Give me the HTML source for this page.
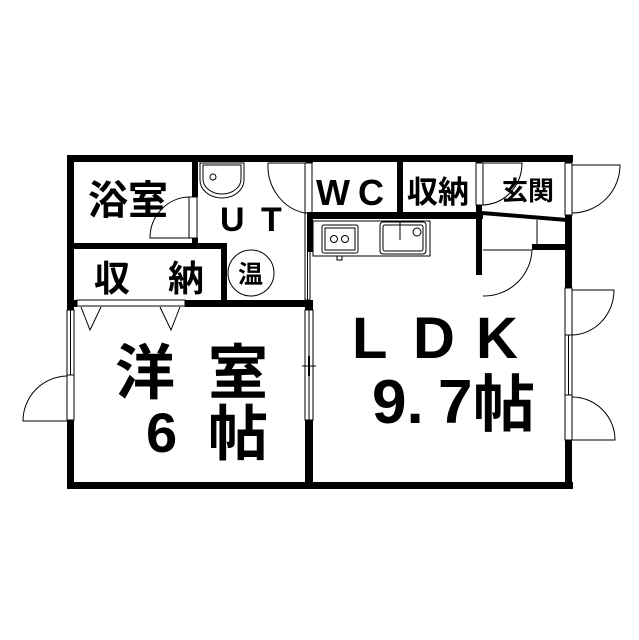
<!DOCTYPE html>
<html><head><meta charset="utf-8"><style>
html,body{margin:0;padding:0;background:#fff;}
svg{display:block;}
text{font-family:"Liberation Sans","Noto Sans CJK JP",sans-serif;fill:#000;font-weight:bold;}
</style></head><body>
<svg width="639" height="640" viewBox="0 0 639 640" xmlns="http://www.w3.org/2000/svg">
<rect width="639" height="640" fill="#fff"/>
<g fill="#000">
<rect x="67" y="155" width="506" height="7"/>
<rect x="67" y="155" width="7" height="155"/>
<rect x="67" y="420" width="7" height="68"/>
<rect x="67" y="482" width="506" height="7"/>
<rect x="565" y="155" width="7" height="8"/>
<rect x="565" y="215" width="7" height="73"/>
<rect x="565" y="440" width="7" height="49"/>
<rect x="192" y="155" width="6" height="42"/>
<rect x="192" y="238" width="6" height="11"/>
<rect x="67" y="243" width="160" height="6"/>
<rect x="221" y="243" width="6" height="64"/>
<rect x="185" y="300" width="128" height="7"/>
<rect x="67" y="300" width="10" height="7"/>
<rect x="306" y="155" width="7" height="8"/>
<rect x="305" y="300" width="8" height="10"/>
<rect x="305" y="420" width="8" height="68"/>
<rect x="307" y="212" width="176" height="7"/>
<rect x="307" y="212" width="6" height="40"/>
<rect x="397" y="155" width="6" height="62"/>
<rect x="476" y="155" width="6" height="8"/>
<rect x="476" y="205" width="6" height="70"/>
<rect x="532" y="244" width="36" height="6"/>
</g>
<g fill="none" stroke="#000" stroke-width="1">
<line x1="482" y1="213" x2="567" y2="220" stroke-width="4"/>
<line x1="537" y1="220" x2="537" y2="245"/>
<!-- bath door -->
<rect x="189" y="197" width="8" height="41"/>
<path d="M189 197 A40 41 0 0 0 150 238 L189 238"/>
<!-- washbasin -->
<path d="M200 163 L244 163 L244 180 A22 18 0 0 1 200 180 Z"/>
<path d="M203 165 L241 165 L241 179 A19 15 0 0 1 203 179 Z"/>
<circle cx="213" cy="177" r="3"/>
<!-- WC door -->
<rect x="305" y="163" width="7" height="50"/>
<path d="M268 163 A45 48 0 0 0 305 213"/>
<line x1="268" y1="163" x2="305" y2="163"/>
<rect x="305" y="213" width="5" height="87"/>
<line x1="307.5" y1="213" x2="307.5" y2="300"/>
<circle cx="251" cy="273" r="23"/>
<rect x="77" y="300" width="108" height="6"/>
<path d="M81 307 L90 330 L101 307"/>
<path d="M160 307 L171 330 L180 307"/>
<rect x="67" y="310" width="7" height="65"/>
<line x1="70.5" y1="310" x2="70.5" y2="375"/>
<rect x="67" y="375" width="7" height="45"/>
<path d="M67 376 A45 45 0 0 0 23 421 L67 421"/>
<rect x="305" y="310" width="8" height="110"/>
<line x1="309" y1="310" x2="309" y2="420"/>
<line x1="302" y1="366" x2="316" y2="366"/>
<line x1="309" y1="356" x2="309" y2="376" stroke-width="2"/>
<rect x="313" y="221" width="117" height="35"/>
<rect x="322" y="225" width="36" height="28" rx="2"/>
<rect x="325" y="228" width="30" height="22"/>
<circle cx="334" cy="239" r="3.5"/>
<circle cx="345" cy="239" r="3.5"/>
<rect x="337" y="256" width="5" height="4"/>
<rect x="380" y="222" width="46" height="32" rx="3"/>
<rect x="383" y="225" width="40" height="26" rx="2"/>
<line x1="400" y1="222" x2="400" y2="240"/>
<circle cx="417" cy="232" r="4"/>
<rect x="476" y="163" width="7" height="42"/>
<path d="M483 163 L522 163 A40 42 0 0 1 483 205"/>
<rect x="565" y="163" width="7" height="52"/>
<path d="M572 165 L620 165 A48 48 0 0 1 572 213"/>
<path d="M483 250 L532 250 A48 48 0 0 1 483 296"/>
<rect x="565" y="288" width="7" height="47"/>
<path d="M572 290 L614 290 A43 45 0 0 1 572 335"/>
<rect x="565" y="335" width="7" height="60"/>
<line x1="568.5" y1="335" x2="568.5" y2="395"/>
<rect x="565" y="395" width="7" height="45"/>
<path d="M572 397 A43 43 0 0 1 615 440 L572 440"/>
</g>
<text x="88" y="214" font-size="40">浴室</text>
<text x="220" y="231" font-size="34">U</text>
<text x="261" y="231" font-size="34">T</text>
<text x="94" y="291" font-size="36">収</text>
<text x="168" y="291" font-size="36">納</text>
<text x="238" y="283" font-size="25">温</text>
<text x="316" y="205" font-size="36">W</text>
<text x="358" y="205" font-size="36">C</text>
<text x="407" y="203" font-size="31">収納</text>
<text x="502" y="200" font-size="26">玄関</text>
<text x="115" y="394" font-size="60">洋</text>
<text x="208" y="394" font-size="60">室</text>
<text x="146" y="452" font-size="56">6</text>
<text x="208" y="455" font-size="60">帖</text>
<text x="352" y="358" font-size="58">L</text>
<text x="413" y="358" font-size="58">D</text>
<text x="476" y="358" font-size="58">K</text>
<text x="372" y="423" font-size="62">9.</text>
<text x="438" y="423" font-size="62">7</text>
<text x="473" y="426" font-size="62">帖</text>
</svg>
</body></html>
